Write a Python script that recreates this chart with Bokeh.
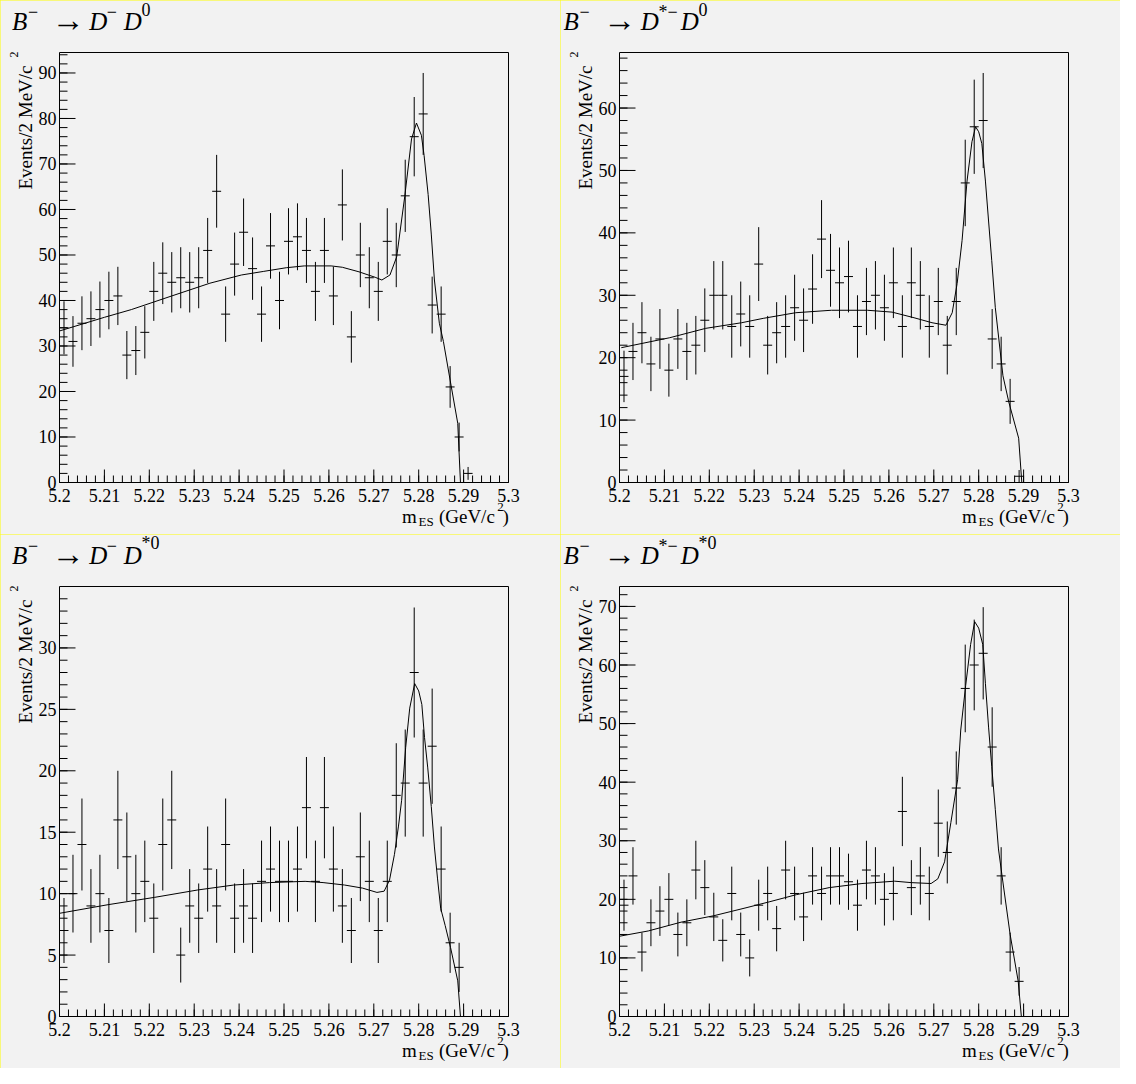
import numpy as np
from bokeh.plotting import figure
from bokeh.layouts import gridplot
from bokeh.models import Label, Range1d
from bokeh.core.properties import value
from bokeh.embed import file_html
from bokeh.resources import INLINE

# ---------------- data ----------------
BIN_WIDTH = 0.002
X_MIN, X_MAX = 5.2, 5.3
X_MAJOR = [5.20, 5.21, 5.22, 5.23, 5.24, 5.25, 5.26, 5.27, 5.28, 5.29, 5.30]
X_TICK_LABELS = ["5.2", "5.21", "5.22", "5.23", "5.24", "5.25", "5.26", "5.27", "5.28", "5.29", "5.3"]
X_MINOR = [round(5.2 + 0.002 * i, 3) for i in range(51)]

# B- -> D- D0
mes_dd0 = [round(5.201 + 0.002 * k, 3) for k in range(46)]
counts_dd0 = [34, 31, 35, 36, 38, 40, 41, 28, 29, 33, 42, 46, 44, 45, 44, 45, 51, 64, 37, 48,
              55, 47, 37, 52, 40, 53, 54, 51, 42, 51, 41, 61, 32, 50, 45, 42, 53, 50, 63, 76,
              81, 39, 37, 21, 10, 2]
fit_x_dd0 = [5.200, 5.205, 5.210, 5.216, 5.225, 5.2335, 5.2405, 5.2455, 5.2505, 5.2545, 5.2605,
             5.263, 5.2667, 5.2703, 5.2718, 5.2736, 5.2751, 5.2769, 5.2784, 5.2795, 5.2806,
             5.2812, 5.2821, 5.2828, 5.2835, 5.2846, 5.2855, 5.2870, 5.2887, 5.2893]
fit_y_dd0 = [33.3, 34.8, 36.3, 38.0, 41.0, 43.8, 45.6, 46.4, 47.2, 47.6, 47.6,
             47.3, 46.3, 45.1, 44.5, 45.6, 49.6, 62.9, 75.5, 79.0, 76.3,
             71.9, 63.3, 54.6, 44.5, 35.0, 31.0, 22.5, 13.0, 0.0]

# B- -> D*- D0
mes_dsd0 = [round(5.201 + 0.002 * k, 3) for k in range(45)]
counts_dsd0 = [17, 21, 24, 19, 23, 18, 23, 21, 22, 26, 30, 30, 25, 27, 25, 35, 22, 24, 25, 28,
               26, 31, 39, 34, 32, 33, 25, 29, 30, 28, 32, 25, 32, 30, 25, 29, 22, 29, 48, 57,
               58, 23, 19, 13, 1]
fit_x_dsd0 = [5.2004, 5.2112, 5.2192, 5.2272, 5.2320, 5.2392, 5.2472, 5.2552, 5.2607, 5.2656,
              5.2696, 5.2727, 5.2741, 5.2752, 5.2763, 5.2774, 5.2785, 5.2793, 5.2800, 5.2807,
              5.2815, 5.2822, 5.2829, 5.2837, 5.2854, 5.2867, 5.2889, 5.2896]
fit_y_dsd0 = [21.6, 23.2, 24.7, 25.6, 26.3, 27.2, 27.6, 27.6, 27.3, 26.4,
              25.6, 25.2, 27.2, 31.9, 38.8, 48.3, 54.6, 57.0, 56.2, 54.3,
              48.3, 41.9, 35.6, 28.0, 17.1, 12.9, 7.1, 0.0]

# B- -> D- D*0
mes_dds0 = [round(5.201 + 0.002 * k, 3) for k in range(45)]
counts_dds0 = [7, 10, 14, 9, 10, 7, 16, 13, 10, 11, 8, 14, 16, 5, 9, 8, 12, 9, 14, 8,
               9, 8, 11, 12, 11, 11, 12, 17, 11, 17, 12, 9, 7, 13, 11, 7, 11, 18, 19, 28,
               19, 22, 12, 6, 4]
fit_x_dds0 = [5.2000, 5.2108, 5.2212, 5.2308, 5.2388, 5.2468, 5.2547, 5.2587, 5.2635, 5.2675,
              5.2707, 5.2723, 5.2735, 5.2746, 5.2755, 5.2762, 5.2771, 5.2780, 5.2791, 5.2800,
              5.2807, 5.2813, 5.2820, 5.2828, 5.2835, 5.2842, 5.2849, 5.2859, 5.2871, 5.2887,
              5.2893]
fit_y_dds0 = [8.4, 9.1, 9.7, 10.3, 10.7, 10.9, 11.0, 10.9, 10.7, 10.45,
              10.1, 10.2, 11.1, 13.2, 15.5, 17.6, 21.9, 25.1, 27.1, 26.5,
              25.4, 22.7, 20.3, 17.1, 13.8, 11.2, 8.8, 7.4, 5.6, 2.9,
              0.0]

# B- -> D*- D*0
mes_dsds0 = [round(5.201 + 0.002 * k, 3) for k in range(45)]
counts_dsds0 = [19, 24, 11, 16, 18, 20, 14, 16, 25, 22, 17, 13, 21, 14, 10, 19, 21, 15, 25, 21,
                17, 24, 21, 24, 24, 23, 19, 25, 24, 20, 21, 35, 22, 24, 21, 33, 28, 39, 56, 60,
                62, 46, 24, 11, 6]
fit_x_dsds0 = [5.2000, 5.2064, 5.2137, 5.2210, 5.2284, 5.2335, 5.2394, 5.2467, 5.2540, 5.2613,
               5.2650, 5.2694, 5.2709, 5.2724, 5.2738, 5.2753, 5.2760, 5.2771, 5.2782, 5.2791,
               5.2800, 5.2809, 5.2815, 5.2822, 5.2829, 5.2837, 5.2844, 5.2852, 5.2870, 5.2888,
               5.2895]
fit_y_dsds0 = [13.7, 14.6, 16.1, 17.2, 18.6, 19.6, 20.8, 22.0, 22.7, 23.1,
               22.85, 22.7, 23.5, 26.4, 33.1, 40.4, 48.9, 56.5, 63.5, 67.4,
               66.3, 63.5, 56.8, 49.4, 42.7, 35.3, 28.6, 24.0, 14.0, 6.0,
               0.0]

Y_MAX = [94.5, 68.9, 35.0, 73.4]
Y_MAJOR_STEP = [10, 10, 5, 10]
Y_MINOR_STEP = [2, 2, 1, 2]

# ---------------- style / layout ----------------
FONT = "Liberation Serif"
BG = "#f2f2f2"
PW, PH = 560, 534                 # one pad
ML, MR, MT, MB = 59, 52, 52, 52   # pad margins around the axis box
FW, FH = PW - ML - MR, PH - MT - MB
S = 0.986                          # reference px -> page px
MID = 0.3375                       # em offset baseline -> text middle


def lab(p, x, y_mid, s, size, style="normal", align="left", angle=0.0):
    """x, y_mid: pixels from the pad's bottom-left corner, y_mid is the text's middle
    (for rotated text, x is the middle)."""
    p.add_layout(Label(x=x, y=y_mid, x_units="screen", y_units="screen", text=s,
                       text_font=FONT, text_font_size=f"{size}px", text_font_style=style,
                       text_align=align, text_baseline="middle", text_color="black",
                       angle=angle))


def txt(p, x, y_base, s, size, style="normal", align="left", angle=0.0):
    """Same, but positioned by the text baseline."""
    if angle == 0.0:
        lab(p, x, y_base + MID * size, s, size, style, align, angle)
    else:
        lab(p, x - MID * size, y_base, s, size, style, align, angle)


def make_panel(i, mes, counts, fx, fy, title_parts):
    ymax = Y_MAX[i]
    xspan = X_MAX - X_MIN
    p = figure(width=PW, height=PH, title=None,
               x_range=Range1d(X_MIN - ML / FW * xspan, X_MAX + MR / FW * xspan),
               y_range=Range1d(-MB / FH * ymax, ymax + MT / FH * ymax),
               x_axis_location=None, y_axis_location=None,
               output_backend="svg", toolbar_location=None, min_border=0)
    p.background_fill_color = BG
    p.border_fill_color = BG
    p.outline_line_color = None
    p.grid.visible = False
    p.styles = {"outline": "2px solid #ffff00", "outline-offset": "-2px"}

    # axis box
    p.quad(left=[X_MIN], right=[X_MAX], bottom=[0], top=[ymax],
           fill_color=None, line_color="black", line_width=1)

    # x axis ticks (inside) and labels
    p.ray(x=X_MINOR, y=0, length=7, angle=np.pi / 2, length_units="screen",
          line_color="black", line_width=1)
    p.ray(x=X_MAJOR, y=0, length=13, angle=np.pi / 2, length_units="screen",
          line_color="black", line_width=1)
    p.text(x=X_MAJOR, y=-13.3 / FH * ymax, text=X_TICK_LABELS,
           text_font=value(FONT), text_font_size=value("18px"), text_color="black",
           text_align="center", text_baseline="middle")

    # y axis ticks (inside) and labels
    ymaj = list(np.arange(0, ymax, Y_MAJOR_STEP[i]))
    ymin = list(np.arange(0, ymax, Y_MINOR_STEP[i]))
    p.ray(x=X_MIN, y=ymin, length=8, angle=0, length_units="screen",
          line_color="black", line_width=1)
    p.ray(x=X_MIN, y=ymaj, length=16, angle=0, length_units="screen",
          line_color="black", line_width=1)
    p.text(x=X_MIN - 3.0 / FW * xspan, y=ymaj, text=[str(int(t)) for t in ymaj],
           text_font=value(FONT), text_font_size=value("18px"), text_color="black",
           text_align="right", text_baseline="middle")

    # histogram with Poisson error bars, and the fit
    mes = np.array(mes)
    c = np.array(counts, dtype=float)
    err = np.sqrt(c)
    p.segment(x0=mes, y0=c - err, x1=mes, y1=c + err, line_color="black", line_width=1)
    p.segment(x0=mes - BIN_WIDTH / 2, y0=c, x1=mes + BIN_WIDTH / 2, y1=c,
              line_color="black", line_width=1)
    p.line(fx, fy, line_color="black", line_width=1)

    # x axis title, right-aligned at the box edge
    xr = ML + FW
    txt(p, xr - 106.5, MB - 40, "m", 19)
    txt(p, xr - 90.0, MB - 43.5, "ES", 13)
    txt(p, xr - 69.6, MB - 40, "(GeV/c", 19)
    txt(p, xr - 11.2, MB - 28.6, "2", 13)
    txt(p, xr - 5.9, MB - 40, ")", 19)
    # y axis title, ending at the top of the box
    txt(p, ML - 27.6, MB + 417, "Events/2 MeV/c", 19, align="right", angle=np.pi / 2)
    txt(p, ML - 41.0, MB + 431, "2", 12, align="right", angle=np.pi / 2)

    # pad title (x from pad left, vertical middle from pad top, reference px)
    for (xl, ym, s, size, style) in title_parts:
        lab(p, xl * S, PH - ym * S, s, size, style)
    return p


def title(x0, star_d1, star_d2):
    parts = [(x0 + 0.0, 21.3, "B", 25, "italic"),
             (x0 + 16.3, 11.5, "\u2212", 18, "normal"),
             (x0 + 40.0, 20.0, "\u2192", 33, "normal"),
             (x0 + 78.3, 21.3, "D", 25, "italic")]
    if star_d1:
        parts.append((x0 + 96.5, 11.5, "*\u2212", 18, "normal"))
        d2 = x0 + 119.0
    else:
        parts.append((x0 + 96.0, 11.5, "\u2212", 18, "normal"))
        d2 = x0 + 113.3
    parts.append((d2, 21.3, "D", 25, "italic"))
    parts.append((d2 + 18.0, 8.9, "*0" if star_d2 else "0", 18, "normal"))
    return parts


p1 = make_panel(0, mes_dd0, counts_dd0, fit_x_dd0, fit_y_dd0, title(11.7, False, False))
p2 = make_panel(1, mes_dsd0, counts_dsd0, fit_x_dsd0, fit_y_dsd0, title(3.0, True, False))
p3 = make_panel(2, mes_dds0, counts_dds0, fit_x_dds0, fit_y_dds0, title(11.7, False, True))
p4 = make_panel(3, mes_dsds0, counts_dsds0, fit_x_dsds0, fit_y_dsds0, title(3.0, True, True))

grid = gridplot([[p1, p2], [p3, p4]], toolbar_location=None)
open("out.html", "w").write(file_html(grid, INLINE))
